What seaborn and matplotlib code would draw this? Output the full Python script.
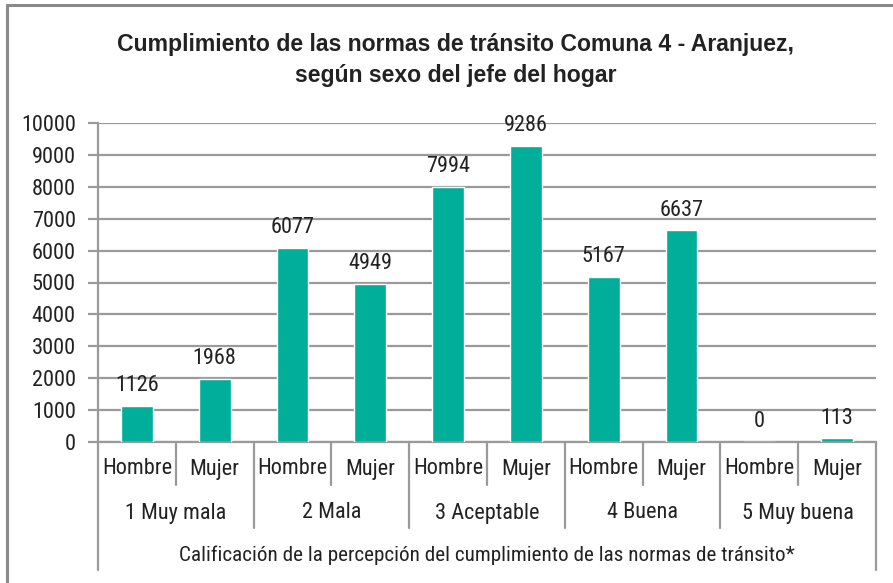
import matplotlib
matplotlib.use("Agg")
import matplotlib.pyplot as plt
from matplotlib import font_manager
from matplotlib.lines import Line2D
from matplotlib.transforms import blended_transform_factory
import seaborn as sns
import pandas as pd

# Data
categorias = ["1 Muy mala", "2 Mala", "3 Aceptable", "4 Buena", "5 Muy buena"]
sexos = ["Hombre", "Mujer"]
hombre = [1126, 6077, 7994, 5167, 0]
mujer = [1968, 4949, 9286, 6637, 113]
y_ticks = list(range(0, 10001, 1000))
titulo = "Cumplimiento de las normas de tránsito Comuna 4 - Aranjuez,\nsegún sexo del jefe del hogar"
eje_x = "Calificación de la percepción del cumplimiento de las normas de tránsito*"

TEAL = "#00AE9A"
GRID = "#9a9a9a"
TEXT = "#222222"
FS = 16

sns.set_theme(style="white")

available = {f.name for f in font_manager.fontManager.ttflist}
body_font = next((f for f in ["Roboto Condensed", "Liberation Sans Narrow", "DejaVu Sans"]
                  if f in available), "DejaVu Sans")
plt.rcParams["font.family"] = [body_font, "DejaVu Sans"]

rows = []
for i, cat in enumerate(categorias):
    rows.append({"pos": f"{i}-H", "valor": hombre[i]})
    rows.append({"pos": f"{i}-M", "valor": mujer[i]})
df = pd.DataFrame(rows)

W, H = 893, 583
fig = plt.figure(figsize=(W / 100, H / 100), dpi=100)
ax = fig.add_axes([98 / W, 1 - 442 / H, (876 - 98) / W, (442 - 123) / H])

sns.barplot(data=df, x="pos", y="valor", color=TEAL, width=0.41, saturation=1,
            ax=ax, zorder=3, errorbar=None)

ax.set_xlim(-0.5, len(df) - 0.5)
ax.set_ylim(0, 10000)
ax.set_yticks(y_ticks)
ax.set_yticklabels([str(t) for t in y_ticks], fontsize=FS, color=TEXT)
ax.set_xticks([])
ax.set_xlabel("")
ax.set_ylabel("")
ax.yaxis.grid(True, color=GRID, linewidth=1.6, zorder=0)
ax.set_axisbelow(True)
ax.tick_params(axis="y", which="both", left=True, length=7, width=1.6, color=GRID, pad=9)
for side in ["top", "right"]:
    ax.spines[side].set_visible(False)
for side in ["left", "bottom"]:
    ax.spines[side].set_color(GRID)
    ax.spines[side].set_linewidth(1.6)

for cont in ax.containers:
    ax.bar_label(cont, labels=[f"{int(v)}" for v in cont.datavalues],
                 padding=7, fontsize=FS, color=TEXT)

# Hierarchical category axis
tr = blended_transform_factory(ax.transData, fig.transFigure)

def fy(p):
    return 1 - p / H

def vline(x, y0, y1):
    ax.add_line(Line2D([x, x], [fy(y0), fy(y1)], transform=tr, color=GRID,
                       linewidth=1.6, clip_on=False))

n = len(df)
vline(-0.5, 442, 570)
vline(n - 0.5, 442, 570)
for i in range(1, len(categorias)):
    vline(2 * i - 0.5, 442, 528)
for i in range(len(categorias)):
    vline(2 * i + 0.5, 442, 485)

for i, cat in enumerate(categorias):
    for j, sx in enumerate(sexos):
        ax.text(2 * i + j, fy(469), sx, transform=tr, ha="center", va="center",
                fontsize=FS, color=TEXT)
    ax.text(2 * i + 0.5, fy(513), cat, transform=tr, ha="center", va="center",
            fontsize=FS, color=TEXT)
ax.text((n - 1) / 2, fy(555), eje_x, transform=tr, ha="center", va="center",
        fontsize=15.2, color=TEXT)

fig.text(456 / W, fy(60), titulo, ha="center", va="center", fontsize=16.6,
         fontweight="bold", color=TEXT, linespacing=1.4,
         family=["Liberation Sans", "DejaVu Sans"])

# Frame around the chart
fig.add_artist(Line2D([7 / W, 7 / W], [0, fy(5)], transform=fig.transFigure,
                      color="#8a8a8a", linewidth=2.2))
fig.add_artist(Line2D([7 / W, 1], [fy(5), fy(5)], transform=fig.transFigure,
                      color="#8a8a8a", linewidth=2.2))

fig.savefig("out.png", dpi=100)
